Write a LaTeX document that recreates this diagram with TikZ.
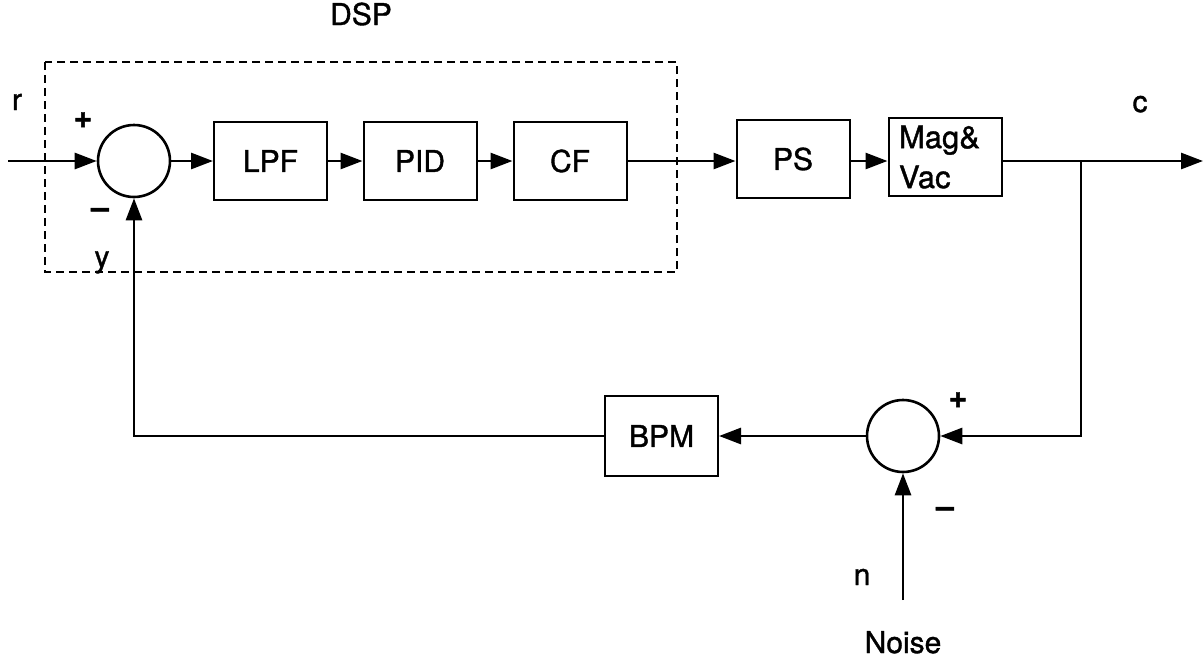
\documentclass[tikz,border=0pt]{standalone}
\usepackage{fontspec}
\setmainfont{TeX Gyre Heros}[FakeBold=1.2]
\usetikzlibrary{arrows.meta}
\begin{document}
\begin{tikzpicture}[x=1pt,y=-1pt,
  font=\fontsize{30}{40}\selectfont,
  blk/.style={draw,line width=2pt,minimum width=113pt,minimum height=78pt,inner sep=0pt},
  sumc/.style={draw,circle,line width=2.6pt,minimum size=72pt,inner sep=0pt},
  conn/.style={line width=2.8pt,-{Triangle[length=22pt,width=16pt]}},
  dsp/.style={line width=2pt,dash pattern=on 8pt off 5pt},
  lbl/.style={inner sep=0pt,anchor=base},
  sgn/.style={inner sep=0pt,font=\fontsize{32}{40}\selectfont\bfseries}]
\useasboundingbox (0,0) rectangle (1204,659);
% dashed DSP region
\draw[dsp] (45,62) rectangle (677,272);
\node[lbl] (dsplbl) at (361,25) {DSP};
% blocks
\node[sumc] (s1) at (134,161) {};
\node[blk] (lpf) at (270.5,161) {LPF};
\node[blk] (pid) at (420,161) {PID};
\node[blk] (cf) at (570,161) {CF};
\node[blk] (ps) at (793,159) {PS};
\node[blk,align=left,text width=92pt,font=\fontsize{31}{40}\selectfont] (mag) at (945,157) {Mag\&\\Vac};
\node[blk,minimum height=80pt] (bpm) at (661.5,436) {BPM};
\node[sumc] (s2) at (903,436) {};
% coordinates
\coordinate (rin) at (8,161);
\coordinate (cout) at (1203,161);
\coordinate (br) at (1081,161);
\coordinate (nin) at (903,600);
% connectors
\draw[conn] (rin) -- (s1.west);
\draw[conn] (s1.east) -- (lpf.west);
\draw[conn] (lpf.east) -- (pid.west);
\draw[conn] (pid.east) -- (cf.west);
\draw[conn] (cf.east) -- (cf.east -| ps.west);
\draw[conn] (ps.east |- cf.east) -- (mag.west |- cf.east);
\draw[conn] (mag.east |- cf.east) -- (cout);
\draw[conn] (br) |- (s2.east);
\draw[conn] (s2.west) -- (bpm.east);
\draw[conn] (bpm.west) -| (s1.south);
\draw[conn] (nin) -- (s2.south);
% labels
\node[lbl] (rl) at (17,110) {r};
\node[sgn] (p1) at (83,120) {+};
\node[sgn] (m1) at (100,213) {–};
\node[lbl] (yl) at (102,267) {y};
\node[lbl] (cl) at (1140,112) {c};
\node[sgn] (p2) at (958,400) {+};
\node[sgn] (m2) at (945,512) {–};
\node[lbl] (nl) at (862,585) {n};
\node[lbl] (noise) at (903,653) {Noise};
\end{tikzpicture}
\end{document}
